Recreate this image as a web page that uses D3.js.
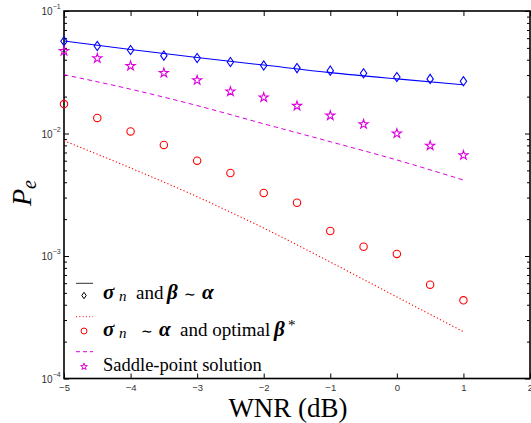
<!DOCTYPE html>
<html>
<head>
<meta charset="utf-8">
<script src="https://cdn.jsdelivr.net/npm/d3@7"></script>
<style>
  body { margin: 0; background: #fff; }
</style>
</head>
<body>
<svg id="chart" width="531" height="423"></svg>
<script>
// WNR (dB) values for the markers and for the curves
var wnr = [-5, -4.5, -4, -3.5, -3, -2.5, -2, -1.5, -1, -0.5, 0, 0.5, 1];
var wnrCurve = [-5, -4, -3, -2, -1, 0, 1];

// sigma_n and beta ~ alpha : simulated (diamonds) and analytic (solid)
var diamondPe = [0.0566, 0.0518, 0.0480, 0.0432, 0.0413, 0.0383, 0.0359, 0.0342, 0.0326, 0.0310, 0.0289, 0.0279, 0.0267];
var solidPe = [0.0569, 0.0485, 0.0417, 0.0362, 0.0314, 0.0279, 0.0250];

// sigma_n ~ alpha and optimal beta* : simulated (circles) and analytic (dotted)
var circlePe = [0.0174, 0.0134, 0.0104, 0.00806, 0.00600, 0.00476, 0.00327, 0.00272, 0.00160, 0.00119, 0.00104, 0.000583, 0.000435];
var dottedPe = [0.00873, 0.00523, 0.00305, 0.00169, 0.000893, 0.000463, 0.000241];

// saddle-point solution : simulated (stars) and analytic (dashed)
var starPe = [0.0471, 0.0411, 0.0356, 0.0312, 0.0272, 0.0220, 0.0197, 0.0168, 0.0140, 0.0119, 0.0100, 0.00795, 0.00664];
var dashedPe = [0.0302, 0.0230, 0.0169, 0.0120, 0.00857, 0.00608, 0.00417];

var xTicks = [-5, -4, -3, -2, -1, 0, 1, 2];
var yExponents = [-4, -3, -2, -1];

var svg = d3.select("#chart");
var SERIF = "'Liberation Serif'";
var SANS = "'Liberation Sans'";

var x = d3.scaleLinear().domain([-5, 2]).range([64, 530]);
var y = d3.scaleLog().domain([1e-4, 1e-1]).range([378.5, 11]);

var blue = "#0000ff", red = "#ff0000", mag = "#dd00dd";

// minor log ticks
var minor = [];
yExponents.slice(0, 3).forEach(function(e) {
  for (var k = 2; k <= 9; k++) minor.push(k * Math.pow(10, e));
});
var major = yExponents.map(function(e) { return Math.pow(10, e); });

// ticks, all pointing inwards
svg.append("g").attr("transform", "translate(0,378.5)")
  .call(d3.axisBottom(x).tickValues(xTicks).tickSize(-5).tickPadding(6).tickFormat(d3.format("d")))
  .call(function(g) {
    g.select(".domain").remove();
    g.selectAll("text").style("font-family", SANS).attr("font-size", 9.5).attr("fill", "#333");
  });
svg.append("g").attr("transform", "translate(0,11)")
  .call(d3.axisTop(x).tickValues(xTicks).tickSize(-5).tickFormat(""))
  .call(function(g) { g.select(".domain").remove(); });

[[64, d3.axisLeft], [530, d3.axisRight]].forEach(function(s) {
  svg.append("g").attr("transform", "translate(" + s[0] + ",0)")
    .call(s[1](y).tickValues(major).tickSize(-5).tickFormat(""))
    .call(function(g) { g.select(".domain").remove(); });
  svg.append("g").attr("transform", "translate(" + s[0] + ",0)")
    .call(s[1](y).tickValues(minor).tickSize(-3).tickFormat(""))
    .call(function(g) { g.select(".domain").remove(); });
});
svg.selectAll(".tick line").attr("stroke", "#000");

// y tick labels 10^e
yExponents.forEach(function(e) {
  var t = svg.append("text").style("font-family", SANS)
    .attr("x", 41.5).attr("y", y(Math.pow(10, e)) + 4)
    .attr("font-size", 10).attr("fill", "#333");
  t.append("tspan").text("10");
  t.append("tspan").attr("dy", -6).attr("font-size", 7).text("\u2212" + (-e));
});

// axes box
svg.append("rect")
  .attr("x", 64).attr("y", 11)
  .attr("width", 466).attr("height", 367.5)
  .attr("fill", "none").attr("stroke", "#000").attr("stroke-width", 1.6);

// curves
var line = d3.line()
  .x(function(d, i) { return x(wnrCurve[i]); })
  .y(function(d) { return y(d); })
  .curve(d3.curveMonotoneX);

svg.append("path").datum(solidPe).attr("d", line)
  .attr("fill", "none").attr("stroke", blue).attr("stroke-width", 1.1);
svg.append("path").datum(dashedPe).attr("d", line)
  .attr("fill", "none").attr("stroke", mag).attr("stroke-width", 1)
  .attr("stroke-dasharray", "4.5,3.5");
svg.append("path").datum(dottedPe).attr("d", line)
  .attr("fill", "none").attr("stroke", red).attr("stroke-width", 1.1)
  .attr("stroke-dasharray", "1.2,2.3");

// markers
function diamondPath(w, h) {
  return "M0," + (-h) + "L" + w + ",0L0," + h + "L" + (-w) + ",0Z";
}
var star = d3.symbol().type(d3.symbolStar);

svg.append("g").selectAll("path").data(diamondPe).join("path")
  .attr("transform", function(d, i) { return "translate(" + x(wnr[i]) + "," + y(d) + ")"; })
  .attr("d", diamondPath(3.2, 4.6))
  .attr("fill", "none").attr("stroke", blue).attr("stroke-width", 1.1);

svg.append("g").selectAll("circle").data(circlePe).join("circle")
  .attr("cx", function(d, i) { return x(wnr[i]); })
  .attr("cy", function(d) { return y(d); })
  .attr("r", 3.7)
  .attr("fill", "none").attr("stroke", red).attr("stroke-width", 1.1);

svg.append("g").selectAll("path").data(starPe).join("path")
  .attr("transform", function(d, i) { return "translate(" + x(wnr[i]) + "," + y(d) + ")"; })
  .attr("d", star.size(26)())
  .attr("fill", "none").attr("stroke", mag).attr("stroke-width", 1.1);

// legend
var lg = svg.append("g");
lg.append("line").attr("x1", 76).attr("x2", 93).attr("y1", 283.3).attr("y2", 283.3)
  .attr("stroke", "#333").attr("stroke-width", 1);
lg.append("path").attr("transform", "translate(84,295.5)")
  .attr("d", diamondPath(2.2, 3.2)).attr("fill", "none").attr("stroke", "#000").attr("stroke-width", 1);

lg.append("line").attr("x1", 76).attr("x2", 93).attr("y1", 316.7).attr("y2", 316.7)
  .attr("stroke", red).attr("stroke-width", 1).attr("stroke-dasharray", "1,2.3");
lg.append("circle").attr("cx", 84).attr("cy", 331).attr("r", 3)
  .attr("fill", "none").attr("stroke", red).attr("stroke-width", 1);

lg.append("line").attr("x1", 76).attr("x2", 93).attr("y1", 351.7).attr("y2", 351.7)
  .attr("stroke", mag).attr("stroke-width", 1).attr("stroke-dasharray", "4,3");
lg.append("path").attr("transform", "translate(84,366.7)")
  .attr("d", star.size(14)()).attr("fill", "none").attr("stroke", mag).attr("stroke-width", 1);

// legend text, each piece placed at its own x like the typeset original
function legendText(yb, parts) {
  var t = lg.append("text").style("font-family", SERIF)
    .attr("y", yb).attr("font-size", 19).attr("fill", "#000");
  parts.forEach(function(p) {
    var s = t.append("tspan").attr("x", p.x).attr("y", yb + (p.dy || 0)).text(p.t);
    if (p.bi) s.attr("font-weight", "bold").attr("font-style", "italic").attr("font-size", 21);
    if (p.i) s.attr("font-style", "italic");
    if (p.fs) s.attr("font-size", p.fs);
  });
}
legendText(298.5, [
  {t: "\u03C3", x: 103, bi: true}, {t: "n", x: 119, i: true, dy: 2, fs: 15},
  {t: "and", x: 136}, {t: "\u03B2", x: 167, bi: true},
  {t: "\u223C", x: 184, fs: 14}, {t: "\u03B1", x: 202, bi: true}
]);
legendText(335.5, [
  {t: "\u03C3", x: 103, bi: true}, {t: "n", x: 119, i: true, dy: 2, fs: 15},
  {t: "\u223C", x: 141, fs: 14}, {t: "\u03B1", x: 159, bi: true},
  {t: "and optimal", x: 180}, {t: "\u03B2", x: 274, bi: true},
  {t: "*", x: 288, dy: -6, fs: 15}
]);
legendText(370.5, [{t: "Saddle-point solution", x: 103, fs: 18.5}]);

// axis labels
svg.append("text").style("font-family", SERIF)
  .attr("x", 288).attr("y", 417)
  .attr("text-anchor", "middle")
  .attr("font-size", 27).text("WNR (dB)");

var yl = svg.append("text").style("font-family", SERIF)
  .attr("transform", "translate(31,193) rotate(-90)")
  .attr("text-anchor", "middle")
  .attr("font-size", 28);
yl.append("tspan").attr("font-style", "italic").text("P");
yl.append("tspan").attr("font-style", "italic").attr("font-size", 20).attr("dy", 5).text("e");
</script>
</body>
</html>
